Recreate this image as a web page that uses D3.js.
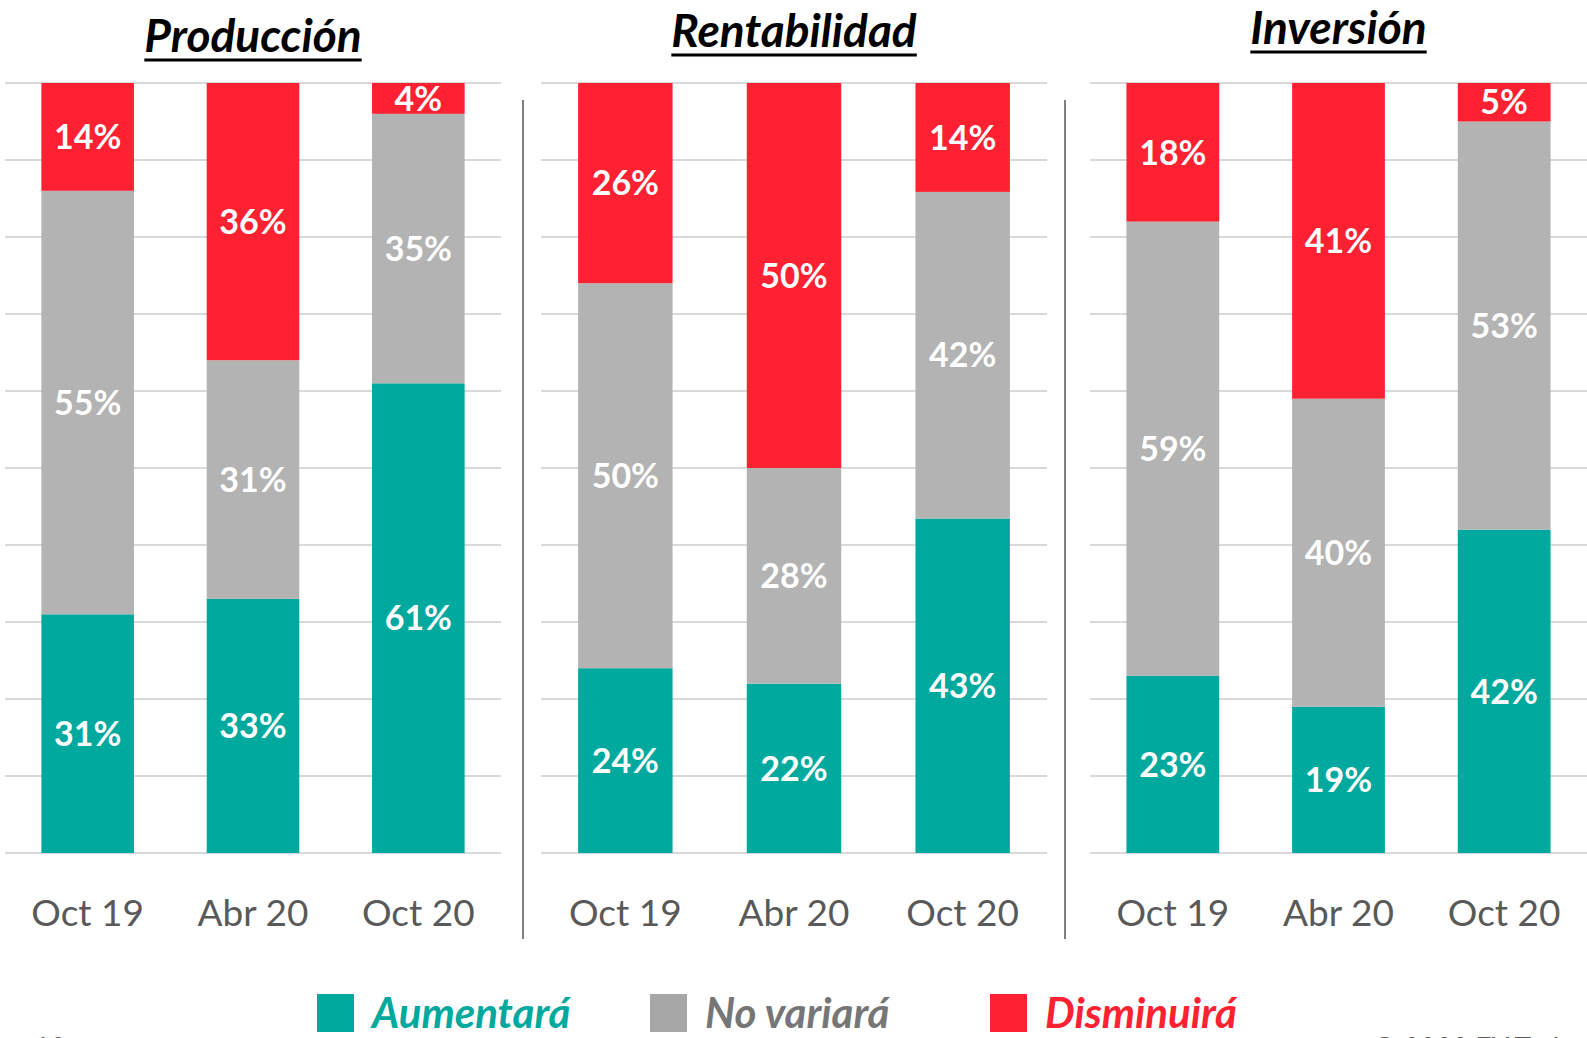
<!DOCTYPE html>
<html>
<head>
<meta charset="utf-8">
<script src="https://cdn.jsdelivr.net/npm/d3@7"></script>
<style>
  html, body { margin:0; padding:0; background:#fff; overflow:hidden; }
  svg { display:block; font-family: Lato, "Open Sans", sans-serif; }
</style>
</head>
<body>
<div class="chart"></div>
<script>
// data
var categories=["Oct 19","Abr 20","Oct 20"]
var panels=["Producción","Rentabilidad","Inversión"]
var seriesNames=["Aumentará","No variará","Disminuirá"]

var produccionAumentara=[31,33,61]
var produccionNoVariara=[55,31,35]
var produccionDisminuira=[14,36,4]

var rentabilidadAumentara=[24,22,43]
var rentabilidadNoVariara=[50,28,42]
var rentabilidadDisminuira=[26,50,14]

var inversionAumentara=[23,19,42]
var inversionNoVariara=[59,40,53]
var inversionDisminuira=[18,41,5]

var yTicks=d3.range(0,1.01,0.1)

var panelData=[
  [produccionAumentara,produccionNoVariara,produccionDisminuira],
  [rentabilidadAumentara,rentabilidadNoVariara,rentabilidadDisminuira],
  [inversionAumentara,inversionNoVariara,inversionDisminuira]
]

var colors=["#00a99d","#b3b3b3","#fe2131"]
var legendSwatch=["#00a99d","#a6a6a6","#fe2131"]
var legendText=["#00a99d","#767676","#fe2131"]

var width=1587, height=1038
var svg=d3.select(".chart").append("svg")
  .attr("width",width)
  .attr("height",height)

// layout of the three panels
var panelX=[[5,501],[541,1047],[1090,1587]]
var titleY=[52,47,44]
var plotTop=83, plotBottom=853

// 100% stacked, so the scale runs 0..1
var y=d3.scaleLinear().domain([0,1]).range([plotBottom,plotTop])

var drawPanel=function(p){
  var g=svg.append("g").attr("class","panel"+p)
  var x=d3.scaleBand()
    .domain(categories)
    .range(panelX[p])
    .paddingInner(0.44)
    .paddingOuter(0.22)

  // gridlines
  g.append("g").selectAll("line")
    .data(yTicks)
    .enter().append("line")
    .attr("x1",panelX[p][0])
    .attr("x2",panelX[p][1])
    .attr("y1",function(d){return y(d)})
    .attr("y2",function(d){return y(d)})
    .style("stroke","#d9d9d9")
    .attr("stroke-width",2)

  // stacked rows
  var rows=categories.map(function(c,i){
    var r={cat:c}
    seriesNames.forEach(function(s,k){ r[s]=panelData[p][k][i] })
    return r
  })
  var stacked=d3.stack().keys(seriesNames).offset(d3.stackOffsetExpand)(rows)

  var layers=g.selectAll("g.layer")
    .data(stacked)
    .enter().append("g")
    .attr("class","layer")
    .style("fill",function(d,i){return colors[i]})

  layers.selectAll("rect")
    .data(function(d){return d.map(function(v){v.key=d.key;return v})})
    .enter().append("rect")
    .attr("x",function(d){return x(d.data.cat)})
    .attr("width",x.bandwidth())
    .attr("y",function(d){return y(d[1])})
    .attr("height",function(d){return y(d[0])-y(d[1])})

  layers.selectAll("text")
    .data(function(d){return d})
    .enter().append("text")
    .attr("x",function(d){return x(d.data.cat)+x.bandwidth()/2})
    .attr("y",function(d){return (y(d[0])+y(d[1]))/2})
    .attr("dy","0.36em")
    .attr("text-anchor","middle")
    .style("fill","#fff")
    .style("font-weight","bold")
    .style("font-size","34px")
    .text(function(d){return d.data[d.key]+"%"})

  // category axis
  var axis=g.append("g")
    .attr("transform","translate(0,"+plotBottom+")")
    .call(d3.axisBottom(x).tickSize(0).tickPadding(0))
  axis.select(".domain").remove()
  axis.selectAll("text")
    .attr("y",73)
    .attr("dy",0)
    .style("font-family","Lato, sans-serif")
    .style("font-size","37px")
    .style("fill","#595959")

  // title
  var cx=(panelX[p][0]+panelX[p][1])/2
  var title=g.append("text")
    .attr("x",cx)
    .attr("y",titleY[p])
    .attr("text-anchor","middle")
    .style("font-size","46px")
    .style("font-weight","bold")
    .style("font-style","italic")
    .style("fill","#000")
    .text(panels[p])
  var bb=title.node().getBBox()
  g.append("line")
    .attr("x1",bb.x)
    .attr("x2",bb.x+bb.width)
    .attr("y1",titleY[p]+8)
    .attr("y2",titleY[p]+8)
    .style("stroke","#000")
    .attr("stroke-width",3)
}

for(var p=0;p<3;p++){
  drawPanel(p)
}

// dividers
svg.selectAll("line.divider")
  .data([523,1065])
  .enter().append("line")
  .attr("class","divider")
  .attr("x1",function(d){return d})
  .attr("x2",function(d){return d})
  .attr("y1",100)
  .attr("y2",939)
  .style("stroke","#7f7f7f")
  .attr("stroke-width",2)

// legend
var legendX=[317,650,990]
var legend=svg.append("g").selectAll("g")
  .data(seriesNames)
  .enter().append("g")
  .attr("transform",function(d,i){return "translate("+legendX[i]+",994)"})
legend.append("rect")
  .attr("width",37)
  .attr("height",38)
  .style("fill",function(d,i){return legendSwatch[i]})
legend.append("text")
  .attr("x",55)
  .attr("y",34)
  .style("font-size","42px")
  .style("font-weight","bold")
  .style("font-style","italic")
  .style("fill",function(d,i){return legendText[i]})
  .text(function(d){return d})

// page footer, cut by the bottom edge as in the slide
svg.append("text")
  .attr("x",34)
  .attr("y",1058)
  .style("font-size","28px")
  .style("fill","#595959")
  .text("10")
svg.append("text")
  .attr("x",1373)
  .attr("y",1058)
  .style("font-size","28px")
  .style("fill","#595959")
  .text("© 2020 EY Todos los derechos reservados")
</script>
</body>
</html>
